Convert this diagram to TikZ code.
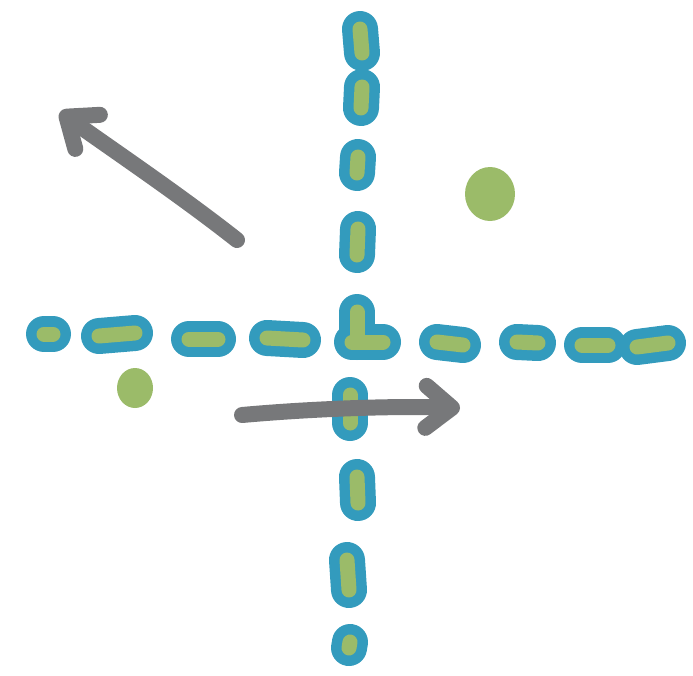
\documentclass[tikz,border=0pt]{standalone}
\usetikzlibrary{arrows.meta}
\definecolor{axisblue}{HTML}{339BBD}
\definecolor{axisgreen}{HTML}{9BBB69}
\definecolor{arrowgray}{HTML}{77787A}
\newcommand\dashlist{44/334/53/334, 99/336/135/333, 189/339/218/339, 267/338/303/340,
    352/342/383/342, 437/342/463/345, 517/342/538/343, 582/345/608/345, 637/347/668/343,
    360/29/362/53, 362/87/361/108, 358/157/357/173, 358/229/357/255, 357/312/357/342,
    350/395/350/423, 357/477/358/503, 347/560/349/590, 350/642/349/648}
\begin{document}
\begin{tikzpicture}[x=1pt, y=-1pt, line cap=round, line join=round,
    outer/.style={axisblue, line width=36pt},
    inner/.style={axisgreen, line width=15pt},
    pointer/.style={arrowgray, line width=16pt, -{Straight Barb[length=26pt, width=42pt, round]}}]
    \useasboundingbox (0,0) rectangle (693,675);
    \foreach \xa/\ya/\xb/\yb in \dashlist {
        \draw[outer] (\xa,\ya) -- (\xb,\yb);
    }
    \foreach \xa/\ya/\xb/\yb in \dashlist {
        \draw[inner] (\xa,\ya) -- (\xb,\yb);
    }
    \fill[axisgreen] (490,194) ellipse [x radius=25pt, y radius=27pt];
    \fill[axisgreen] (135,388) ellipse [x radius=18pt, y radius=20pt];
    \coordinate (tailA) at (237,240);
    \coordinate (tipA) at (60,112);
    \coordinate (tailB) at (242,415);
    \coordinate (tipB) at (460,408);
    \draw[pointer] (tailA) .. controls (180,195) and (110,148) .. (tipA);
    \draw[pointer] (tailB) .. controls (320,408) and (400,406) .. (tipB);
\end{tikzpicture}
\end{document}
